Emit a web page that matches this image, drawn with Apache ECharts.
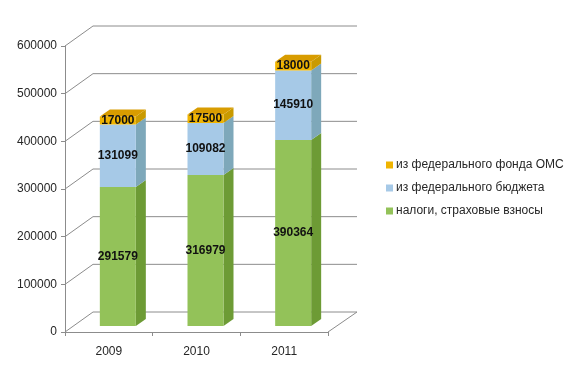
<!DOCTYPE html>
<html><head><meta charset="utf-8">
<script src="https://cdn.jsdelivr.net/npm/echarts@6/dist/echarts.min.js"></script>
<style>html,body{margin:0;padding:0;background:#fff}#c{width:573px;height:385px}</style>
</head><body><div id="c"></div>
<script>
const categories = ['2009', '2010', '2011'];
const taxes = [291579, 316979, 390364];
const federalBudget = [131099, 109082, 145910];
const omsFund = [17000, 17500, 18000];
const seriesNames = ['налоги, страховые взносы', 'из федерального бюджета', 'из федерального фонда ОМС'];
const yTicks = [0, 100000, 200000, 300000, 400000, 500000, 600000];

const FONT = 'Liberation Sans';
const WALL_DX = 28, WALL_DY = -20;   // back wall depth
const BAR_SX = 9, BAR_SY = -6;       // bar plane offset from front axis plane
const BAR_HALF = 18, BAR_DX = 10, BAR_DY = -7;
const styles = [
  {front: '#93c259', side: '#6d9b35', top: '#a6cf72', label: '#111'},
  {front: '#a6c9e7', side: '#7ea8ba', top: '#bcd6ec', label: '#111'},
  {front: '#f0b400', side: '#c99a00', top: '#d89c00', label: '#111'}
];
const stacks = [taxes, federalBudget, omsFund];

function makeBarSeries(si) {
  const vals = stacks[si];
  const data = vals.map((v, i) => {
    let base = 0;
    for (let k = 0; k < si; k++) base += stacks[k][i];
    return [i, v, base];
  });
  const st = styles[si];
  const isTop = si === stacks.length - 1;
  return {
    type: 'custom', name: seriesNames[si], z: 5 + si,
    itemStyle: {color: st.front},
    encode: {x: 0, y: 1},
    data: data,
    renderItem: function (params, api) {
      const idx = api.value(0), v = api.value(1), base = api.value(2);
      const p0 = api.coord([idx, base]);
      const p1 = api.coord([idx, base + v]);
      const cx = p0[0] + BAR_SX;
      const yb = p0[1] + BAR_SY, yt = p1[1] + BAR_SY;
      const xl = cx - BAR_HALF, xr = cx + BAR_HALF;
      const children = [
        {type: 'polygon', shape: {points: [[xr, yb], [xr + BAR_DX, yb + BAR_DY], [xr + BAR_DX, yt + BAR_DY], [xr, yt]]},
          style: {fill: st.side}},
        {type: 'rect', shape: {x: xl, y: yt, width: xr - xl, height: yb - yt},
          style: {fill: st.front}}
      ];
      if (isTop) {
        children.push({type: 'polygon', shape: {points: [[xl, yt], [xl + BAR_DX, yt + BAR_DY], [xr + BAR_DX, yt + BAR_DY], [xr, yt]]},
          style: {fill: st.top}});
      }
      children.push({type: 'text', z2: 10, style: {text: String(v), x: cx, y: (yt + yb) / 2,
        align: 'center', verticalAlign: 'middle', fill: st.label,
        font: 'bold 12px "' + FONT + '"'}});
      return {type: 'group', children: children};
    }
  };
}

const wallSeries = {
  type: 'custom', name: 'walls', z: 1, silent: true,
  encode: {y: 0},
  data: yTicks.map(v => [v]),
  renderItem: function (params, api) {
    const v = api.value(0);
    const cs = params.coordSys;
    const y = api.coord([0, v])[1];
    const left = cs.x, right = cs.x + cs.width;
    const lineStyle = {stroke: '#8c8c8c', lineWidth: 1, fill: null};
    const children = [
      {type: 'polyline', shape: {points: [[left, y], [left + WALL_DX, y + WALL_DY], [right + WALL_DX + 1, y + WALL_DY]]}, style: lineStyle}
    ];
    if (v === 0) {
      children.push({type: 'line', shape: {x1: right, y1: y, x2: right + WALL_DX + 1, y2: y + WALL_DY}, style: lineStyle});
    }
    return {type: 'group', children: children};
  }
};

const chart = echarts.init(document.getElementById('c'), null, {renderer: 'canvas'});
chart.setOption({
  animation: false,
  backgroundColor: '#fff',
  textStyle: {fontFamily: FONT},
  grid: {left: 65, width: 263, top: 46, bottom: 53},
  xAxis: {
    type: 'category', data: categories, boundaryGap: true,
    axisLine: {lineStyle: {color: '#8c8c8c'}},
    axisTick: {show: true, length: 4, lineStyle: {color: '#8c8c8c'}},
    axisLabel: {color: '#262626', fontSize: 12, margin: 14, fontFamily: FONT},
    splitLine: {show: false}
  },
  yAxis: {
    type: 'value', min: 0, max: 600000, interval: 100000,
    axisLine: {show: true, lineStyle: {color: '#8c8c8c'}},
    axisTick: {show: true, length: 4, lineStyle: {color: '#8c8c8c'}},
    axisLabel: {color: '#262626', fontSize: 12, margin: 8, fontFamily: FONT,
      formatter: function (v) { return String(v); }},
    splitLine: {show: false}
  },
  legend: {
    orient: 'vertical', left: 381, top: 154,
    data: [seriesNames[2], seriesNames[1], seriesNames[0]],
    icon: 'rect', itemWidth: 7, itemHeight: 7, itemGap: 11,
    textStyle: {color: '#262626', fontSize: 12, fontFamily: FONT, padding: [0, 0, 0, -2]}
  },
  series: [wallSeries, makeBarSeries(0), makeBarSeries(1), makeBarSeries(2)]
});
</script></body></html>
